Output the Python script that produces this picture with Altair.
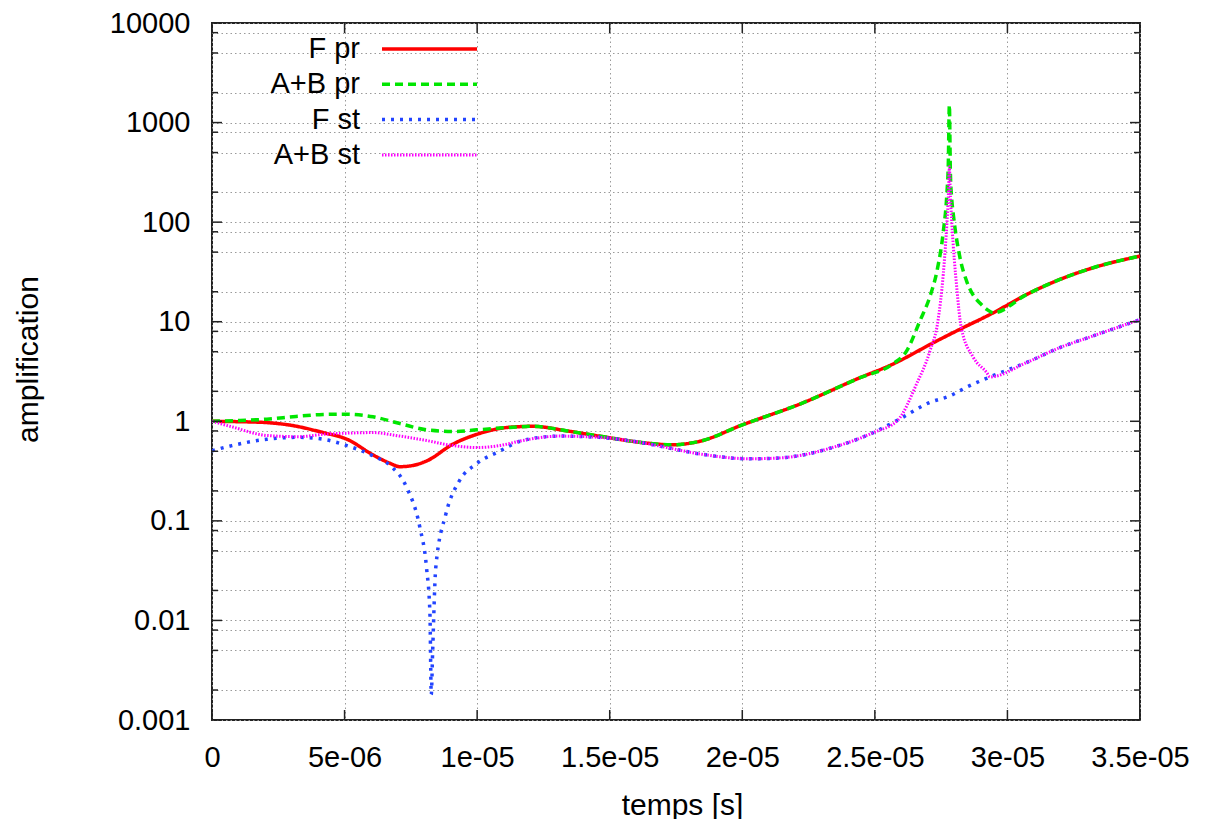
import json
import altair as alt
import pandas as pd

# ---------------- data ----------------
series_names = ["F pr", "A+B pr", "F st", "A+B st"]
series_colors = ["#ff0000", "#00e600", "#2244ff", "#ff00ff"]
series_dash = [[1, 0], [8, 5], [3, 6], [1.5, 1.5]]
series_width = [3.5, 3.5, 3.5, 3]

t_fpr = [0, 1.06e-6, 2.07e-6, 3.0e-6, 4.19e-6, 5.09e-6, 6.07e-6, 6.7e-6, 7.09e-6,
         7.58e-6, 8.1e-6, 9.09e-6, 9.99e-6, 1.12e-5, 1.21e-5, 1.34e-5, 1.46e-5,
         1.65e-5, 1.73e-5, 1.84e-5, 2.0e-5, 2.22e-5, 2.444e-5, 2.563e-5, 2.733e-5,
         2.821e-5, 2.947e-5, 3.073e-5, 3.198e-5, 3.323e-5, 3.5e-5]
v_fpr = [1.0, 0.99, 0.97, 0.91, 0.77, 0.66, 0.46, 0.38, 0.35,
         0.36, 0.40, 0.59, 0.74, 0.87, 0.89, 0.80, 0.71,
         0.60, 0.58, 0.63, 0.92, 1.5, 2.74, 3.7, 6.4,
         8.4, 12.3, 18.8, 26.6, 34.8, 45.6]

t_abpr = [0, 1.06e-6, 2.07e-6, 3.17e-6, 4.19e-6, 5.09e-6, 6.07e-6, 7.09e-6, 8.1e-6,
          9.09e-6, 9.99e-6, 1.1e-5, 1.21e-5, 1.34e-5, 1.46e-5, 1.65e-5, 1.73e-5,
          1.84e-5, 2.0e-5, 2.22e-5, 2.444e-5, 2.563e-5, 2.62e-5, 2.67e-5, 2.708e-5,
          2.735e-5, 2.758e-5, 2.772e-5, 2.777e-5, 2.781e-5, 2.785e-5, 2.79e-5,
          2.796e-5, 2.821e-5, 2.846e-5, 2.871e-5, 2.897e-5, 2.922e-5, 2.947e-5,
          3.073e-5, 3.198e-5, 3.323e-5, 3.5e-5]
v_abpr = [1.0, 1.02, 1.05, 1.12, 1.17, 1.18, 1.11, 0.95, 0.82,
          0.79, 0.82, 0.86, 0.89, 0.80, 0.71, 0.60, 0.58,
          0.63, 0.92, 1.5, 2.74, 3.7, 5.1, 10.2, 18,
          33, 80, 200, 380, 1500, 300, 170,
          119, 44, 25.6, 18.5, 15.3, 13.3, 12.3,
          18.8, 26.6, 34.8, 45.6]

t_fst = [0, 7.5e-7, 2.07e-6, 3.3e-6, 4.19e-6, 5.09e-6, 6.07e-6, 6.71e-6, 7.34e-6,
         7.84e-6, 8.09e-6, 8.22e-6, 8.27e-6, 8.32e-6, 8.44e-6, 8.82e-6, 9.32e-6,
         9.95e-6, 1.084e-5, 1.17e-5, 1.31e-5, 1.46e-5, 1.65e-5, 1.715e-5, 1.84e-5,
         2.03e-5, 2.15e-5, 2.34e-5, 2.494e-5, 2.587e-5, 2.708e-5, 2.783e-5, 2.846e-5,
         2.934e-5, 3.073e-5, 3.198e-5, 3.323e-5, 3.5e-5]
v_fst = [0.505, 0.57, 0.66, 0.69, 0.66, 0.57, 0.45, 0.36, 0.217,
         0.086, 0.034, 0.0116, 0.0018, 0.0047, 0.034, 0.117, 0.25,
         0.37, 0.5, 0.64, 0.71, 0.69, 0.59, 0.545, 0.47,
         0.42, 0.43, 0.545, 0.77, 1.03, 1.55, 1.8, 2.2,
         2.79, 3.9, 5.5, 7.2, 10.5]

t_abst = [0, 7.5e-7, 2.07e-6, 3.3e-6, 4.19e-6, 5.09e-6, 6.07e-6, 7.09e-6, 8.1e-6,
          9.09e-6, 9.99e-6, 1.084e-5, 1.17e-5, 1.31e-5, 1.46e-5, 1.65e-5, 1.715e-5,
          1.84e-5, 2.03e-5, 2.15e-5, 2.34e-5, 2.494e-5, 2.587e-5, 2.657e-5, 2.708e-5,
          2.738e-5, 2.758e-5, 2.772e-5, 2.777e-5, 2.781e-5, 2.785e-5, 2.79e-5,
          2.809e-5, 2.826e-5, 2.871e-5, 2.922e-5, 2.934e-5, 3.073e-5, 3.198e-5,
          3.323e-5, 3.5e-5]
v_abst = [1.0, 0.88, 0.72, 0.70, 0.74, 0.76, 0.77, 0.71, 0.64,
          0.57, 0.545, 0.57, 0.64, 0.71, 0.69, 0.59, 0.545,
          0.47, 0.42, 0.43, 0.545, 0.77, 1.03, 2.36, 5.1,
          10.2, 30, 100, 176, 360, 180, 101,
          21.9, 8.7, 4.4, 3.08, 2.79, 3.9, 5.5,
          7.2, 10.5]

x_ticks = [0, 5e-6, 1e-5, 1.5e-5, 2e-5, 2.5e-5, 3e-5, 3.5e-5]
x_tick_labels = ["0", "5e-06", "1e-05", "1.5e-05", "2e-05", "2.5e-05", "3e-05", "3.5e-05"]
y_major = [0.001, 0.01, 0.1, 1, 10, 100, 1000, 10000]
y_minor = [0.002, 0.005, 0.008, 0.02, 0.05, 0.08, 0.2, 0.5, 0.8, 2, 5, 8,
           20, 50, 80, 200, 500, 800, 2000, 5000, 8000]

# ---------------- layout ----------------
W, H = 928, 697
FONT = "Liberation Sans"
FRAME = "#222222"

xscale = alt.Scale(domain=[0, 3.5e-5], nice=False, zero=False)
yscale = alt.Scale(type="log", domain=[0.001, 10000], nice=False)

x_label_expr = json.dumps(x_tick_labels) + "[round(datum.value / 5e-6)]"
y_label_expr = ("abs(log(datum.value)/LN10 - round(log(datum.value)/LN10)) < 1e-6"
                " ? toString(datum.value) : ''")

xaxis = alt.Axis(values=x_ticks, labelExpr=x_label_expr, title="temps [s]",
                 titleX=470, titleY=85, titleBaseline="middle", labelPadding=23,
                 labelFlush=False)
yaxis = alt.Axis(values=sorted(y_major + y_minor), labelExpr=y_label_expr,
                 title="amplification", titleAngle=270, titleX=-184, titleY=336,
                 titleBaseline="middle", titleAlign="center", labelPadding=22)

def X():
    return alt.X("t:Q", scale=xscale, axis=xaxis)

def Y():
    return alt.Y("v:Q", scale=yscale, axis=yaxis)

all_series = [(t_fpr, v_fpr), (t_abpr, v_abpr), (t_fst, v_fst), (t_abst, v_abst)]

layers = []
for i, (ts, vs) in enumerate(all_series):
    df = pd.DataFrame({"t": ts, "v": vs})
    layers.append(
        alt.Chart(df).mark_line(
            color=series_colors[i], strokeWidth=series_width[i],
            strokeDash=series_dash[i], interpolate="monotone", strokeCap="butt",
            clip=True,
        ).encode(x=X(), y=Y())
    )

# inward tick marks on all four sides (gnuplot style)
def ytick_layer(vals, x0, x1):
    return alt.Chart(pd.DataFrame({"v": vals})).mark_rule(
        color=FRAME, strokeWidth=1.5).encode(
        y=Y(), x=alt.value(x0), x2=alt.value(x1))

def xtick_layer(vals, y0, y1):
    return alt.Chart(pd.DataFrame({"t": vals})).mark_rule(
        color=FRAME, strokeWidth=1.5).encode(
        x=X(), y=alt.value(y0), y2=alt.value(y1))

layers += [
    ytick_layer(y_major, 0, 10), ytick_layer(y_minor, 0, 6),
    ytick_layer(y_major, W - 10, W), ytick_layer(y_minor, W - 6, W),
    xtick_layer(x_ticks, H, H - 10), xtick_layer(x_ticks, 0, 10),
]

# legend (label left, line sample right)
for i, name in enumerate(series_names):
    yy = 26 + i * 35.3
    layers.append(
        alt.Chart(pd.DataFrame({"label": [name]})).mark_text(
            align="right", baseline="middle", font=FONT, fontSize=29, color="black"
        ).encode(text="label:N", x=alt.value(148), y=alt.value(yy))
    )
    layers.append(
        alt.Chart(pd.DataFrame({"label": [name]})).mark_rule(
            color=series_colors[i], strokeWidth=series_width[i],
            strokeDash=series_dash[i], strokeCap="butt"
        ).encode(x=alt.value(170), x2=alt.value(265), y=alt.value(yy))
    )

chart = alt.layer(*layers).properties(
    width=W, height=H,
    padding={"left": 204, "top": 15, "right": 63, "bottom": 99},
    autosize=alt.AutoSizeParams(type="none"),
    background="white",
).configure_view(
    stroke=FRAME, strokeWidth=2
).configure_axis(
    domain=False, ticks=False, tickSize=0,
    grid=True, gridColor="#9a9a9a", gridDash=[1.5, 3], gridWidth=1,
    labelFont=FONT, labelFontSize=29, labelColor="black",
    titleFont=FONT, titleFontSize=30, titleFontWeight="normal", titleColor="black",
)

chart.save("out.html", embed_options={"renderer": "svg", "actions": False})
